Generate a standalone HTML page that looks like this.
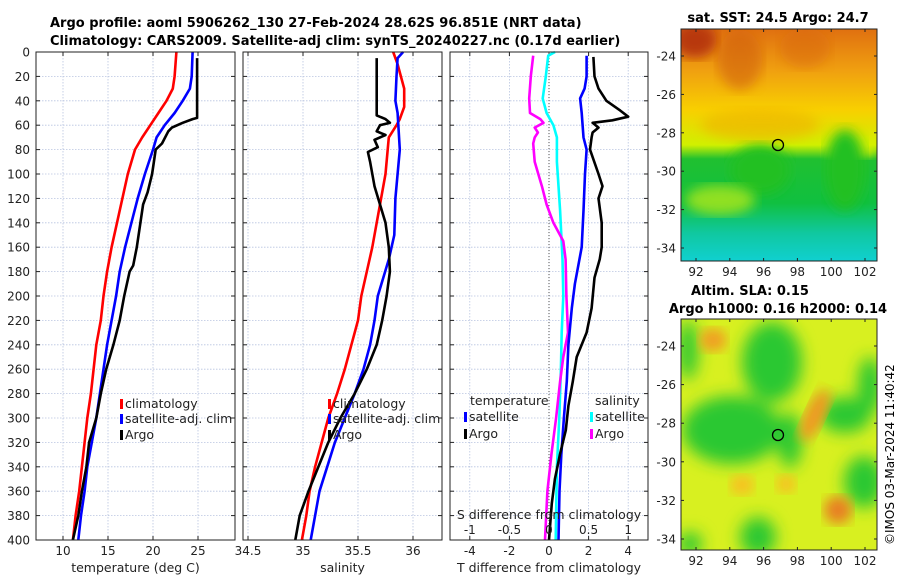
<!DOCTYPE html>
<html><head><meta charset="utf-8">
<style>
html,body{margin:0;padding:0;background:#fff;}
svg{display:block;font-family:"DejaVu Sans","Liberation Sans",sans-serif;}
</style></head>
<body>
<svg id="fig" width="900" height="580" viewBox="0 0 900 580" xmlns="http://www.w3.org/2000/svg">
<defs>
<linearGradient id="sstGrad" x1="0" y1="0" x2="0" y2="1">
<stop offset="0" stop-color="#e07010"/><stop offset="0.18" stop-color="#f0a010"/>
<stop offset="0.35" stop-color="#f8d000"/><stop offset="0.5" stop-color="#d0f000"/>
<stop offset="0.56" stop-color="#20c030"/><stop offset="0.75" stop-color="#10c040"/>
<stop offset="0.88" stop-color="#10c8a0"/><stop offset="1" stop-color="#10d0d0"/>
</linearGradient>
<filter id="blur4"><feGaussianBlur stdDeviation="4"/></filter>
<filter id="blur6"><feGaussianBlur stdDeviation="6"/></filter>
<filter id="blur8"><feGaussianBlur stdDeviation="8"/></filter>
<clipPath id="m1clip"><rect x="681" y="29" width="196" height="232"/></clipPath>
<clipPath id="m2clip"><rect x="681" y="319" width="196" height="231"/></clipPath>
</defs>
<text x="50" y="27" font-size="13" font-weight="bold">Argo profile: aoml 5906262_130 27-Feb-2024 28.62S 96.851E (NRT data)</text>
<text x="50" y="45" font-size="13" font-weight="bold">Climatology: CARS2009. Satellite-adj clim: synTS_20240227.nc (0.17d earlier)</text>

<g clip-path="url(#m1clip)">
<rect x="681" y="29" width="196" height="232" fill="url(#sstGrad)"/>
<ellipse cx="695" cy="40" rx="22" ry="18" fill="#b83808" filter="url(#blur6)"/>
<ellipse cx="740" cy="60" rx="22" ry="30" fill="#d06010" filter="url(#blur6)" opacity="0.6"/>
<ellipse cx="805" cy="48" rx="25" ry="20" fill="#d86810" filter="url(#blur6)" opacity="0.5"/>
<ellipse cx="760" cy="125" rx="60" ry="16" fill="#f0b000" filter="url(#blur6)" opacity="0.6"/>
<ellipse cx="850" cy="148" rx="25" ry="10" fill="#d8f000" filter="url(#blur6)"/>
<ellipse cx="760" cy="170" rx="30" ry="25" fill="#20c020" filter="url(#blur6)"/>
<ellipse cx="720" cy="200" rx="35" ry="15" fill="#90e020" filter="url(#blur6)"/>
<ellipse cx="845" cy="170" rx="20" ry="40" fill="#20c020" filter="url(#blur6)"/>
</g>
<rect x="681" y="29" width="196" height="232" fill="none" stroke="#222" stroke-width="1"/>
<circle cx="778" cy="145" r="5.5" fill="none" stroke="#000" stroke-width="1.3"/>
<text x="778" y="22" font-size="13" font-weight="bold" text-anchor="middle">sat. SST: 24.5 Argo: 24.7</text>

<g clip-path="url(#m2clip)">
<rect x="681" y="319" width="196" height="231" fill="#d8f020"/>
<g filter="url(#blur8)" fill="#2cc830">
<ellipse cx="772" cy="362" rx="30" ry="40"/>
<ellipse cx="732" cy="430" rx="50" ry="34"/>
<ellipse cx="688" cy="350" rx="10" ry="30"/>
<ellipse cx="845" cy="415" rx="26" ry="18"/>
<ellipse cx="870" cy="385" rx="12" ry="28"/>
<ellipse cx="864" cy="482" rx="20" ry="26"/>
<ellipse cx="758" cy="537" rx="18" ry="20"/>
<ellipse cx="690" cy="544" rx="12" ry="12"/>
<ellipse cx="790" cy="440" rx="12" ry="28"/>
</g>
<ellipse cx="713" cy="340" rx="14" ry="12" fill="#f0a020" filter="url(#blur6)"/>
<ellipse cx="815" cy="415" rx="10" ry="28" fill="#f09820" filter="url(#blur6)" transform="rotate(25 815 415)"/>
<ellipse cx="742" cy="485" rx="12" ry="10" fill="#f8c020" filter="url(#blur6)"/>
<ellipse cx="786" cy="484" rx="10" ry="9" fill="#f8c020" filter="url(#blur6)"/>
<ellipse cx="838" cy="510" rx="14" ry="14" fill="#e88020" filter="url(#blur6)"/>
</g>
<rect x="681" y="319" width="196" height="231" fill="none" stroke="#222" stroke-width="1"/>
<circle cx="778" cy="435" r="5.5" fill="none" stroke="#000" stroke-width="1.3"/>
<text x="750" y="295" font-size="13" font-weight="bold" text-anchor="middle">Altim. SLA: 0.15</text>
<text x="778" y="313" font-size="13" font-weight="bold" text-anchor="middle">Argo h1000: 0.16 h2000: 0.14</text>
<text x="0" y="0" font-size="12" transform="translate(894,545) rotate(-90)">©IMOS 03-Mar-2024 11:40:42</text>

<g id="plots"></g>
</svg>
<script>
const depthClim = [0,10,20,30,40,50,60,70,80,100,120,140,160,180,200,220,240,260,280,300,320,340,360,380,400];
const tempClim  = [22.6,22.5,22.4,22.2,21.5,20.6,19.7,18.8,18.0,17.2,16.6,16.0,15.4,14.9,14.5,14.2,13.7,13.4,13.1,12.7,12.4,12.1,11.8,11.4,11.1];
const depthSat  = [0,20,30,40,50,60,70,80,100,120,140,160,180,200,220,240,260,280,300,320,340,360,380,400];
const tempSat   = [24.4,24.3,24.1,23.3,22.4,21.3,20.4,20.0,19.1,18.3,17.6,16.9,16.3,15.9,15.4,14.9,14.5,14.1,13.7,13.2,12.7,12.4,12.0,11.7];
const depthArgoT= [5,54,55,58,62,65,75,80,100,115,125,140,160,175,180,200,220,240,260,280,300,320,340,360,380,400];
const tempArgo  = [24.9,24.9,24.4,23.3,22.1,21.7,21.0,20.3,19.9,19.4,18.9,18.6,18.2,17.8,17.4,16.8,16.3,15.6,14.8,14.2,13.7,12.9,12.6,12.1,11.7,11.1];

const depthSalClim=[0,10,30,45,55,60,70,80,100,120,140,160,180,200,220,240,260,280,300,320,340,360,380,400];
const salClim   = [35.82,35.86,35.92,35.92,35.88,35.85,35.78,35.77,35.75,35.71,35.67,35.63,35.58,35.53,35.50,35.44,35.38,35.31,35.23,35.17,35.11,35.06,35.03,34.99];
const depthSalSat=[0,5,20,40,50,80,120,150,170,200,220,240,260,280,300,320,340,360,380,400];
const salSat    = [35.91,35.86,35.85,35.84,35.86,35.88,35.84,35.83,35.78,35.68,35.65,35.61,35.55,35.47,35.38,35.29,35.22,35.15,35.11,35.07];
const depthSalArgo=[5,52,55,58,60,65,68,72,78,82,90,110,125,140,160,180,200,220,240,260,280,300,320,340,360,380,400];
const salArgo   = [35.67,35.67,35.75,35.79,35.70,35.67,35.75,35.65,35.68,35.59,35.61,35.65,35.70,35.75,35.78,35.79,35.76,35.72,35.67,35.58,35.47,35.34,35.23,35.14,35.05,34.97,34.93];

const depthDT  = [4,20,30,40,48,53,56,58,62,66,70,80,100,110,120,140,160,170,185,210,230,250,270,290,310,330,350,370,400];
const dTArgo   = [2.24,2.3,2.5,2.9,3.6,4.0,3.2,2.2,2.5,2.2,2.15,2.07,2.5,2.7,2.5,2.66,2.66,2.56,2.3,2.15,1.9,1.4,1.2,0.98,0.85,0.55,0.3,0.14,0.0];
const depthDTs = [3,20,30,38,50,70,80,100,130,160,190,210,240,270,300,330,360,400];
const dTSat    = [1.9,1.9,1.8,1.57,1.65,1.74,1.9,1.82,1.74,1.65,1.31,1.15,0.98,0.9,0.75,0.62,0.53,0.48];
const depthDSs = [0,3,20,38,50,60,70,90,130,170,200,230,260,300,340,400];
const dSSat    = [0.076,-0.01,-0.04,-0.08,-0.03,0.055,0.1,0.1,0.14,0.17,0.18,0.16,0.15,0.13,0.1,0.085];
const depthDSa = [3,20,38,50,55,58,62,66,70,75,90,110,125,140,155,170,200,230,250,270,300,330,360,400];
const dSArgo   = [-0.2,-0.23,-0.25,-0.24,-0.11,-0.07,-0.18,-0.14,-0.18,-0.2,-0.18,-0.09,-0.03,0.055,0.18,0.21,0.22,0.24,0.18,0.14,0.09,0.03,-0.02,-0.05];

const depthTicks = [0,20,40,60,80,100,120,140,160,180,200,220,240,260,280,300,320,340,360,380,400];
const tempTicks = [10,15,20,25];
const salTicks = [34.5,35,35.5,36];
const salTickLabels = ["34.5","35","35.5","36"];
const dTTicks = [-4,-2,0,2,4];
const dSTicks = [-1,-0.5,0,0.5,1];
const dSTickLabels = ["-1","-0.5","0","0.5","1"];
const lonTicks = [92,94,96,98,100,102];
const latTicks = [-24,-26,-28,-30,-32,-34];

const NS="http://www.w3.org/2000/svg";
const G=document.getElementById('plots');
const Y0=52, Y1=540;
const yD = d => Y0 + (Y1-Y0)*d/400;
function mk(tag,attrs,parent){const e=document.createElementNS(NS,tag);for(const k in attrs)e.setAttribute(k,attrs[k]);(parent||G).appendChild(e);return e;}
function lin(d0,d1,p0,p1){return v=>p0+(v-d0)*(p1-p0)/(d1-d0);}

const panels=[
 {name:'temperature',x0:36,x1:235,sx:lin(10,25,63,198),ticks:tempTicks,labels:tempTicks.map(String),title:'temperature (deg C)'},
 {name:'salinity',x0:243,x1:442,sx:lin(35,36,303,413),ticks:salTicks,labels:salTickLabels,title:'salinity'},
 {name:'difference',x0:450,x1:648,sx:lin(0,4,549,628.2),ticks:dTTicks,labels:dTTicks.map(String),title:'T difference from climatology'}
];

panels.forEach((p,pi)=>{
  const g=mk('g',{});
  
  
  depthTicks.forEach(d=>{
    const l=mk('line',{x1:p.x0,x2:p.x1,y1:yD(d),y2:yD(d),stroke:'#b8c4e0','stroke-width':0.8,'stroke-dasharray':'1.5,1.5'},g);
    
    
    mk('line',{x1:p.x0,x2:p.x0+4,y1:yD(d),y2:yD(d),stroke:'#222'},g);
    mk('line',{x1:p.x1-4,x2:p.x1,y1:yD(d),y2:yD(d),stroke:'#222'},g);
  });
  p.ticks.forEach((t,i)=>{
    const x=p.sx(t);
    const l=mk('line',{x1:x,x2:x,y1:Y0,y2:Y1,stroke:'#b8c4e0','stroke-width':0.8,'stroke-dasharray':'1.5,1.5'},g);
    
    
    mk('line',{x1:x,x2:x,y1:Y1,y2:Y1-4,stroke:'#222'},g);
    mk('line',{x1:x,x2:x,y1:Y0,y2:Y0+4,stroke:'#222'},g);
    const tx=mk('text',{x:x,y:555,'font-size':12,'text-anchor':'middle',fill:'#222'},g);
    
    
    tx.textContent=p.labels[i];
  });
  const tt=mk('text',{x:(p.x0+p.x1)/2,y:572,'font-size':12.5,'text-anchor':'middle',fill:'#222'},g);
  
  
  tt.textContent=p.title;
});
depthTicks.forEach(d=>{
  const t=mk('text',{x:30,y:yD(d)+4.5,'font-size':12,'text-anchor':'end',fill:'#222'});
  
  
  t.textContent=String(d);
});
{const l=mk('line',{x1:panels[2].sx(0),x2:panels[2].sx(0),y1:Y0,y2:Y1,stroke:'#555','stroke-width':1,'stroke-dasharray':'1,2'});

}

function series(depths,vals,sx,color,name){
  const pts=depths.map((d,i)=>sx(vals[i]).toFixed(1)+','+yD(d).toFixed(1)).join(' ');
  const pl=mk('polyline',{points:pts,fill:'none',stroke:color,'stroke-width':2.6,'stroke-linejoin':'round'});
  
  
}
const sT=panels[0].sx, sS=panels[1].sx, sDT=panels[2].sx, sDS=lin(0,1,549,628.2);
series(depthClim,tempClim,sT,'#ff0000','temp-climatology-line');
series(depthSat,tempSat,sT,'#0000ff','temp-satellite-line');
series(depthArgoT,tempArgo,sT,'#000000','temp-argo-line');
series(depthSalClim,salClim,sS,'#ff0000','sal-climatology-line');
series(depthSalSat,salSat,sS,'#0000ff','sal-satellite-line');
series(depthSalArgo,salArgo,sS,'#000000','sal-argo-line');
series(depthDSs,dSSat,sDS,'#00ffff','sdiff-satellite-line');
series(depthDSa,dSArgo,sDS,'#ff00ff','sdiff-argo-line');
series(depthDTs,dTSat,sDT,'#0000ff','tdiff-satellite-line');
series(depthDT,dTArgo,sDT,'#000000','tdiff-argo-line');

dSTicks.forEach((t,i)=>{
  const x=sDS(t);
  const tx=mk('text',{x:x,y:534,'font-size':12,'text-anchor':'middle',fill:'#222'});
  
  
  tx.textContent=dSTickLabels[i];
});
{const t=mk('text',{x:549,y:519,'font-size':12.5,'text-anchor':'middle',fill:'#222'});


t.textContent='S difference from climatology';}

panels.forEach(p=>{
  const r=mk('rect',{x:p.x0,y:Y0,width:p.x1-p.x0,height:Y1-Y0,fill:'none',stroke:'#222','stroke-width':1});
  
  
});

function legend(x,y,color,label,name){
  mk('rect',{x:x,y:y-9,width:3,height:10,fill:color});
  const t=mk('text',{x:x+5,y:y,'font-size':12.5,fill:'#222'});
  
  
  t.textContent=label;
}
legend(120,408,'#ff0000','climatology','legend-climatology');
legend(120,423,'#0000ff','satellite-adj. clim','legend-satellite');
legend(120,439,'#000000','Argo','legend-argo');
legend(328,408,'#ff0000','climatology','legend-climatology');
legend(328,423,'#0000ff','satellite-adj. clim','legend-satellite');
legend(328,439,'#000000','Argo','legend-argo');
{const t=mk('text',{x:470,y:405,'font-size':12.5,fill:'#222'});t.textContent='temperature';}
{const t=mk('text',{x:595,y:405,'font-size':12.5,fill:'#222'});t.textContent='salinity';}
legend(464,421,'#0000ff','satellite','legend-t-satellite');
legend(464,438,'#000000','Argo','legend-t-argo');
legend(590,421,'#00ffff','satellite','legend-s-satellite');
legend(590,438,'#ff00ff','Argo','legend-s-argo');

const mapLon=lin(92,102,696,865);
const maps=[{lat:lin(-24,-34,56,248),top:29,bot:261},{lat:lin(-24,-34,346,539),top:319,bot:550}];
maps.forEach(m=>{
  lonTicks.forEach(t=>{
    const x=mapLon(t);
    mk('line',{x1:x,x2:x,y1:m.bot,y2:m.bot-3,stroke:'#222'});
    mk('line',{x1:x,x2:x,y1:m.top,y2:m.top+3,stroke:'#222'});
    const tx=mk('text',{x:x,y:m.bot+15,'font-size':12,'text-anchor':'middle',fill:'#222'});
    
    
    tx.textContent=String(t);
  });
  latTicks.forEach(t=>{
    const y=m.lat(t);
    mk('line',{x1:681,x2:684,y1:y,y2:y,stroke:'#222'});
    mk('line',{x1:874,x2:877,y1:y,y2:y,stroke:'#222'});
    const tx=mk('text',{x:676,y:y+4.5,'font-size':12,'text-anchor':'end',fill:'#222'});
    
    
    tx.textContent=String(t);
  });
});
</script>
</body></html>
